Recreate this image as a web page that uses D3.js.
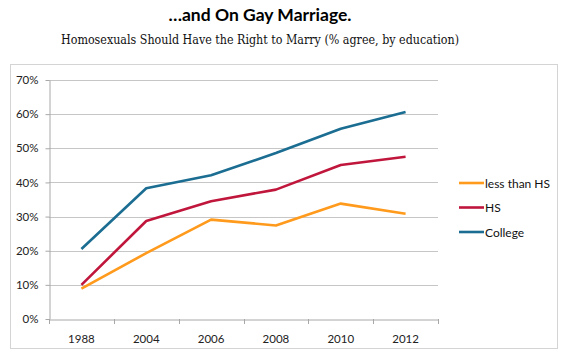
<!DOCTYPE html>
<html><head><meta charset="utf-8">
<script src="https://cdn.jsdelivr.net/npm/d3@7"></script>
<style>body{margin:0;background:#fff}</style>
</head><body>
<svg id="c" width="570" height="361"></svg>
<script>
const years = ["1988","2004","2006","2008","2010","2012"];
const lessThanHS = [8.9, 19.3, 29.1, 27.4, 33.8, 30.8];
const hs = [10.0, 28.7, 34.5, 37.9, 45.1, 47.5];
const college = [20.5, 38.3, 42.1, 48.6, 55.7, 60.6];
const yTicks = [0,10,20,30,40,50,60,70];
const seriesNames = ["less than HS","HS","College"];
const seriesColors = ["#FF9A1C","#C0163C","#1B6D92"];

const series = [lessThanHS, hs, college];
const svg = d3.select("#c");
const sans = "Lato, Open Sans, Liberation Sans, sans-serif";

svg.append("text").attr("x",260).attr("y",21).attr("text-anchor","middle")
  .attr("font-family",sans).attr("font-weight","bold")
  .attr("font-size",17.5).attr("fill","#000").text("…and On Gay Marriage.");
svg.append("text").attr("x",260).attr("y",44).attr("text-anchor","middle")
  .attr("font-family","DejaVu Serif, serif").attr("font-size",12.5).attr("fill","#111")
  .attr("textLength",398).attr("lengthAdjust","spacingAndGlyphs")
  .text("Homosexuals Should Have the Right to Marry (% agree, by education)");

// chart border
svg.append("rect").attr("x",10.5).attr("y",64.5).attr("width",547).attr("height",284)
  .attr("fill","none").attr("stroke","#d4d4d4").attr("stroke-width",1);

const x = d3.scaleBand().domain(years).range([49,438]);
const y = d3.scaleLinear().domain([0,70]).range([319,80]);

const g = svg.append("g");
// gridlines
g.selectAll("line.grid").data(yTicks.filter(d=>d>0)).join("line")
  .attr("x1",49).attr("x2",438).attr("y1",d=>Math.round(y(d))+0.5).attr("y2",d=>Math.round(y(d))+0.5)
  .attr("stroke","#c6c6c6").attr("stroke-width",1);

const yAxis = g.append("g").attr("transform","translate(49.5,0)")
  .call(d3.axisLeft(y).tickValues(yTicks).tickFormat(d=>d+"%").tickSize(4).tickSizeOuter(0));
const xAxis = g.append("g").attr("transform",`translate(0,${Math.round(y(0))+0.5})`)
  .call(d3.axisBottom(x).tickSize(0).tickSizeOuter(0));
[yAxis,xAxis].forEach(a=>{
  a.select(".domain").attr("stroke","#a8a8a8");
  a.selectAll(".tick line").attr("stroke","#a8a8a8");
  a.selectAll("text").attr("font-family",sans).attr("font-size",11.5).attr("fill","#222");
});
yAxis.selectAll("text").attr("x",-11);
xAxis.selectAll("text").attr("dy","1.75em");
// x tick marks at band boundaries
const bounds = years.map(d=>x(d)).concat([x.range()[1]]);
g.selectAll("line.xt").data(bounds).join("line")
  .attr("x1",d=>Math.round(d)+0.5).attr("x2",d=>Math.round(d)+0.5)
  .attr("y1",Math.round(y(0))).attr("y2",Math.round(y(0))+5)
  .attr("stroke","#a8a8a8");

const line = d3.line().x((d,i)=>x(years[i])+x.bandwidth()/2).y(d=>y(d));
series.forEach((s,i)=>{
  g.append("path").attr("d",line(s)).attr("fill","none")
    .attr("stroke",seriesColors[i]).attr("stroke-width",2.6).attr("stroke-linejoin","round");
});

// legend
const leg = svg.append("g");
seriesNames.forEach((n,i)=>{
  const ly = 183 + i*24.5;
  leg.append("line").attr("x1",459).attr("x2",484).attr("y1",ly).attr("y2",ly)
    .attr("stroke",seriesColors[i]).attr("stroke-width",2.6);
  leg.append("text").attr("x",485).attr("y",ly+4.5)
    .attr("font-family",sans).attr("font-size",12).attr("fill","#111").text(n);
});
</script>
</body></html>
